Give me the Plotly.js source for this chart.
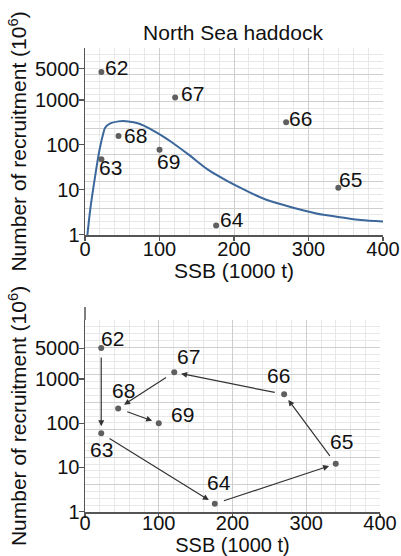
<!DOCTYPE html>
<html>
<head>
<meta charset="utf-8">
<script src="https://cdn.plot.ly/plotly-3.0.1.min.js"></script>
<style>html,body{margin:0;padding:0;background:#fff;}#chart{width:401px;height:556px;}</style>
</head>
<body>
<div id="chart"></div>
<script>
// ---- data ----
const years = ['62', '63', '64', '65', '66', '67', '68', '69'];
const ssb = [22, 22, 176, 340, 270, 121, 45, 100];            // SSB (1000 t)
const recruitTop = [4200, 48, 1.6, 11, 320, 1140, 158, 78];    // recruitment (10^6), upper panel
const recruitBottom = [5000, 59, 1.5, 12, 450, 1420, 215, 100]; // recruitment (10^6), lower panel
const curveSsb = [3, 7, 14, 19, 24, 27, 34, 45, 58, 72, 85, 103, 116, 140, 165, 190, 215, 240, 270, 295, 320, 345, 370, 400];
const curveRec = [0.9, 3.6, 22, 70, 166, 240, 300, 334, 334, 300, 240, 161, 116, 59, 28, 16, 9.8, 6.3, 4.4, 3.4, 2.75, 2.4, 2.1, 1.95];
const yTickVals = [1, 10, 100, 1000, 5000];
const yTickText = ['1', '10', '100', '1000', '5000'];
const xTickVals = [0, 100, 200, 300, 400];

// ---- style (label offsets in px) ----
const shiftTop = [[15, 5], [9, -8], [16, 6], [12, 8], [14, 4], [17, 4], [17, 0], [9, -12]];
const shiftBottom = [[11, 10], [0, -16], [4, 21], [6, 22], [-6, 19], [14, 16], [5, 18], [24, 9]];

const FONT = 'Liberation Sans, Arial, Helvetica, sans-serif';
const W = 401, H = 556;
const TXT = '#111';
const AXC = '#555';
const GRID = '#cfcfcf';
const GRID_MINOR = '#e8e8e8';

const traces = [
  {x: curveSsb, y: curveRec, xaxis: 'x', yaxis: 'y', mode: 'lines',
   line: {color: '#3b679b', width: 2, shape: 'spline', smoothing: 0.8}, hoverinfo: 'skip', showlegend: false},
  {x: ssb, y: recruitTop, xaxis: 'x', yaxis: 'y', mode: 'markers',
   marker: {color: '#5f5f5f', size: 6}, showlegend: false},
  {x: ssb, y: recruitBottom, xaxis: 'x2', yaxis: 'y2', mode: 'markers',
   marker: {color: '#5f5f5f', size: 6}, showlegend: false},
  {x: [], y: [], xaxis: 'x', yaxis: 'y3', showlegend: false, hoverinfo: 'skip'},
  {x: [], y: [], xaxis: 'x2', yaxis: 'y4', showlegend: false, hoverinfo: 'skip'}
];

const annotations = [];
years.forEach((yr, i) => {
  annotations.push({x: ssb[i], y: Math.log10(recruitTop[i]), xref: 'x', yref: 'y', text: yr,
    showarrow: false, xanchor: 'center', yanchor: 'middle', xshift: shiftTop[i][0], yshift: shiftTop[i][1],
    font: {family: FONT, size: 21, color: TXT}});
  annotations.push({x: ssb[i], y: Math.log10(recruitBottom[i]), xref: 'x2', yref: 'y2', text: yr,
    showarrow: false, xanchor: 'center', yanchor: 'middle', xshift: shiftBottom[i][0], yshift: shiftBottom[i][1],
    font: {family: FONT, size: 21, color: TXT}});
});
for (let i = 0; i < years.length - 1; i++) {
  annotations.push({x: ssb[i + 1], y: Math.log10(recruitBottom[i + 1]), xref: 'x2', yref: 'y2',
    ax: ssb[i], ay: Math.log10(recruitBottom[i]), axref: 'x2', ayref: 'y2', text: '',
    showarrow: true, arrowhead: 2, arrowsize: 1, arrowwidth: 1.2, arrowcolor: '#333',
    standoff: 7, startstandoff: 8});
}

function xAxis(domainRight, anchor, lblOff, titleSize, titleStandoff) {
  return {domain: [85 / W, domainRight / W], anchor: anchor, range: [0, 400], type: 'linear',
    tickvals: xTickVals, ticks: 'outside', ticklen: 4, tickcolor: AXC, tickwidth: 1.2,
    ticklabelstandoff: lblOff,
    showline: true, linecolor: AXC, linewidth: 1.5, zeroline: false,
    showgrid: true, gridcolor: GRID, gridwidth: 1,
    minor: {dtick: 20, showgrid: true, gridcolor: GRID_MINOR, ticks: ''},
    tickfont: {family: FONT, size: 20, color: TXT},
    title: {text: 'SSB (1000 t)', font: {family: FONT, size: titleSize, color: TXT}, standoff: titleStandoff}};
}
function yAxis(dom, range, anchor) {
  return {domain: dom, anchor: anchor, type: 'log', range: range,
    tickmode: 'array', tickvals: yTickVals, ticktext: yTickText,
    ticks: 'outside', ticklen: 5, tickcolor: AXC, tickwidth: 1.2,
    ticklabelstandoff: -5,
    showline: true, linecolor: AXC, linewidth: 1.5, showgrid: false, zeroline: false,
    tickfont: {family: FONT, size: 20, color: TXT},
    title: {text: 'Number of recruitment (10<sup>6</sup>)', font: {family: FONT, size: 21, color: TXT}, standoff: 2}};
}
function gridAxis(over, dom) {
  return {overlaying: over, domain: dom, range: [0, 7], dtick: 1, showticklabels: false, ticks: '',
    showline: false, zeroline: false, showgrid: true, gridcolor: GRID, gridwidth: 1,
    minor: {dtick: 0.25, showgrid: true, gridcolor: GRID_MINOR, ticks: ''}};
}

const domTop = [(H - 235) / H, (H - 48) / H];
const domBot = [(H - 512) / H, (H - 320) / H];

const layout = {
  width: W, height: H,
  margin: {l: 0, r: 0, t: 0, b: 0},
  paper_bgcolor: '#fff', plot_bgcolor: '#fff',
  font: {family: FONT, color: TXT},
  showlegend: false,
  title: {text: 'North Sea haddock', x: 233 / W, xanchor: 'center', xref: 'paper',
    y: 1 - 33 / H, yanchor: 'middle', yref: 'container', font: {family: FONT, size: 21, color: TXT}},
  xaxis: xAxis(383, 'y', -9, 21, 0),
  yaxis: yAxis(domTop, [-0.01, 4.16], 'x'),
  xaxis2: xAxis(380, 'y2', -12, 20, 2),
  yaxis2: yAxis(domBot, [-0.01, 4.335], 'x2'),
  yaxis3: Object.assign(gridAxis('y', domTop), {anchor: 'x'}),
  yaxis4: Object.assign(gridAxis('y2', domBot), {anchor: 'x2'}),
  shapes: [
    {type: 'line', xref: 'paper', yref: 'paper', x0: 85 / W, x1: 85 / W,
     y0: (H - 320) / H, y1: (H - 307) / H, line: {color: AXC, width: 1.5}}
  ],
  annotations: annotations
};

Plotly.newPlot('chart', traces, layout, {displayModeBar: false, staticPlot: true});
</script>
</body>
</html>
